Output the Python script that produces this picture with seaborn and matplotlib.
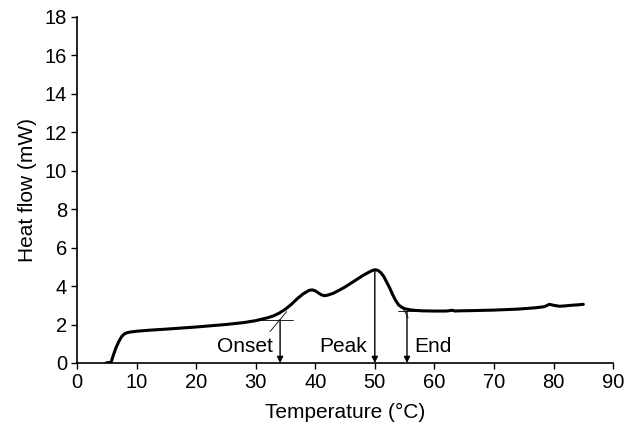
import matplotlib
matplotlib.use("Agg")
import matplotlib.pyplot as plt
import pandas as pd
import seaborn as sns

# DSC trace
temperature = [4.9, 5.3, 5.6, 5.8, 6.0, 6.5, 7.0, 7.5, 8.0, 8.5, 9.0, 10, 12, 15, 20, 25, 28, 30, 32, 33,
               34, 35, 36, 37, 38, 39, 39.5, 40, 40.5, 41, 41.5, 42, 43, 44, 45, 46, 47, 48,
               49, 49.5, 50, 50.5, 51, 51.5, 52, 52.5, 53, 53.5, 54, 54.5, 55, 56, 57, 58,
               60, 62, 63, 63.5, 64, 66, 70, 74, 77, 78.5, 79.3, 80, 81, 82, 83, 84, 85]
heat_flow = [0.0, 0.02, -0.04, 0.1, 0.3, 0.75, 1.1, 1.37, 1.52, 1.58, 1.61, 1.65, 1.7, 1.76, 1.87,
             2.0, 2.1, 2.2, 2.35, 2.45, 2.6, 2.8, 3.05, 3.35, 3.6, 3.78, 3.8, 3.75, 3.65, 3.55,
             3.5, 3.52, 3.62, 3.78, 3.95, 4.15, 4.35, 4.55, 4.72, 4.8, 4.85, 4.82, 4.7, 4.5, 4.2,
             3.9, 3.55, 3.25, 3.02, 2.9, 2.82, 2.76, 2.73, 2.71, 2.7, 2.7, 2.74, 2.7, 2.71, 2.72,
             2.75, 2.8, 2.87, 2.93, 3.05, 3.0, 2.95, 2.97, 3.0, 3.02, 3.05]

marker_names = ["Onset", "Peak", "End"]
marker_temps = [34.1, 50.0, 55.4]
marker_heights = [2.25, 4.85, 2.7]
label_temps = [28.2, 44.7, 59.8]
label_heights = [0.85, 0.85, 0.85]

df = pd.DataFrame({"Temperature": temperature, "Heat flow": heat_flow})

sns.set_style("ticks")
plt.rcParams["font.family"] = ["Liberation Sans", "DejaVu Sans"]
plt.rcParams["text.color"] = "black"
plt.rcParams["axes.labelcolor"] = "black"

fig = plt.figure(figsize=(6.36, 4.24), dpi=100)
ax = fig.add_axes([0.121, 0.144, 0.843, 0.816])

sns.lineplot(data=df, x="Temperature", y="Heat flow", color="black", linewidth=2.2, ax=ax)

# tangent construction lines
ax.plot([30.7, 36.2], [2.25, 2.25], color="black", linewidth=0.6)
ax.plot([32.4, 35.2], [1.63, 2.67], color="black", linewidth=0.6)
ax.plot([53.9, 57.5], [2.7, 2.7], color="black", linewidth=0.6)
ax.plot([54.6, 55.6], [2.9, 2.35], color="black", linewidth=0.6)

for name, xt, yt, xl, yl in zip(marker_names, marker_temps, marker_heights, label_temps, label_heights):
    ax.annotate("", xy=(xt, 0), xytext=(xt, yt),
                arrowprops=dict(arrowstyle="-|>", color="black", lw=1.0,
                                mutation_scale=9, shrinkA=0, shrinkB=0))
    ax.text(xl, yl, name, ha="center", va="center", fontsize=15, color="black")

ax.set_xlim(0, 90)
ax.set_ylim(0, 18)
ax.set_xticks(range(0, 91, 10))
ax.set_yticks(range(0, 19, 2))
ax.tick_params(direction="out", length=4, width=1, labelsize=14.5, colors="black", pad=3)
ax.set_xlabel("Temperature (°C)", fontsize=15, labelpad=8, color="black")
ax.set_ylabel("Heat flow (mW)", fontsize=15, labelpad=6, color="black")
sns.despine(ax=ax)
for s in ["left", "bottom"]:
    ax.spines[s].set_linewidth(1.2)
    ax.spines[s].set_color("black")

fig.savefig("out.png", dpi=100)
